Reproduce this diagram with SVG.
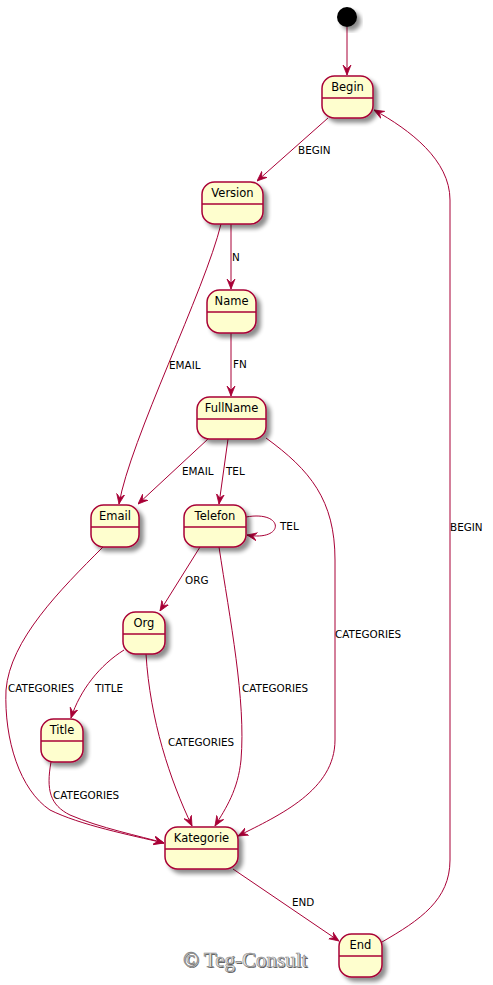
<svg xmlns="http://www.w3.org/2000/svg" width="493" height="985" viewBox="0 0 493 985">
<style>
.st{fill:#FEFECE;stroke:#A80036;stroke-width:1.5;filter:url(#sh)}
.dv{stroke:#A80036;stroke-width:1.5}
.nm{font-family:"DejaVu Sans",sans-serif;font-size:11.5px;fill:#000;text-anchor:middle}
.lb{font-family:"DejaVu Sans",sans-serif;font-size:10.4px;fill:#000}
.e{fill:none;stroke:#A80036;stroke-width:1;marker-end:url(#ah)}
.wm{font-family:"Liberation Serif",serif;font-size:21px}
</style>
<defs>
<filter id="sh" x="-30%" y="-30%" width="160%" height="160%">
<feGaussianBlur in="SourceAlpha" stdDeviation="2"/>
<feOffset dx="4" dy="4" result="b"/>
<feComponentTransfer in="b" result="c"><feFuncA type="linear" slope="0.45"/></feComponentTransfer>
<feMerge><feMergeNode in="c"/><feMergeNode in="SourceGraphic"/></feMerge>
</filter>
<marker id="ah" viewBox="0 0 10 10" refX="10" refY="5" markerWidth="10" markerHeight="10" markerUnits="userSpaceOnUse" orient="auto">
<path d="M0,1 L10,5 L0,9 L4,5 Z" fill="#A80036" stroke="#A80036" stroke-width="0.8"/>
</marker>
</defs>
<rect width="493" height="985" fill="#fff"/>

<g id="connectors">
<path class="e" d="M347,27 L347,75"/>
<path class="e" d="M328,118 L257,181"/>
<text class="lb" x="298" y="154">BEGIN</text>
<path class="e" d="M231,224 L231,289"/>
<text class="lb" x="232" y="261">N</text>
<path class="e" d="M221,224 C205,290 130,440 119,504"/>
<text class="lb" x="169" y="369">EMAIL</text>
<path class="e" d="M231,333 L231,396"/>
<text class="lb" x="233" y="368">FN</text>
<path class="e" d="M208,439 L138,504"/>
<text class="lb" x="182" y="475">EMAIL</text>
<path class="e" d="M228,439 L219,504"/>
<text class="lb" x="226" y="475">TEL</text>
<path class="e" d="M266,438 C310,470 335,500 335,560 L335,740 C335,790 280,815 238,836"/>
<text class="lb" x="335" y="638">CATEGORIES</text>
<path class="e" d="M246,517 C285,510 285,542 247,535"/>
<text class="lb" x="280" y="530">TEL</text>
<path class="e" d="M200,547 L160,611"/>
<text class="lb" x="185" y="584">ORG</text>
<path class="e" d="M219,547 C230,620 246,700 241,760 C238,790 226,808 215,826"/>
<text class="lb" x="242" y="692">CATEGORIES</text>
<path class="e" d="M103,547 C60,590 10,640 6,690 C4,740 20,790 50,810 C80,825 130,835 164,843"/>
<text class="lb" x="8" y="692">CATEGORIES</text>
<path class="e" d="M124,650 C100,665 80,690 71,718"/>
<text class="lb" x="95" y="692">TITLE</text>
<path class="e" d="M146,654 C150,720 170,780 192,826"/>
<text class="lb" x="168" y="746">CATEGORIES</text>
<path class="e" d="M51,762 C46,790 50,805 70,815 C100,828 140,836 164,843"/>
<text class="lb" x="53" y="799">CATEGORIES</text>
<path class="e" d="M233,869 L339,941"/>
<text class="lb" x="292" y="906">END</text>
<path class="e" d="M382,942 C420,920 450,900 450,860 L450,200 C450,160 410,130 374,110"/>
<text class="lb" x="450" y="531">BEGIN</text>
</g>

<g id="start"><circle cx="347" cy="17" r="10" fill="#000" filter="url(#sh)"/></g>

<g id="Begin"><rect class="st" x="322" y="76" width="51" height="42" rx="12.5"/><line class="dv" x1="322" y1="98" x2="373" y2="98"/><text class="nm" x="347.5" y="91">Begin</text></g>
<g id="Version"><rect class="st" x="202" y="182" width="61" height="42" rx="12.5"/><line class="dv" x1="202" y1="204" x2="263" y2="204"/><text class="nm" x="232.5" y="197">Version</text></g>
<g id="Name"><rect class="st" x="207" y="290" width="49" height="43" rx="12.5"/><line class="dv" x1="207" y1="312" x2="256" y2="312"/><text class="nm" x="231.5" y="305">Name</text></g>
<g id="FullName"><rect class="st" x="197" y="397" width="69" height="42" rx="12.5"/><line class="dv" x1="197" y1="419" x2="266" y2="419"/><text class="nm" x="231.5" y="412">FullName</text></g>
<g id="Email"><rect class="st" x="91" y="505" width="48" height="42" rx="12.5"/><line class="dv" x1="91" y1="527" x2="139" y2="527"/><text class="nm" x="115" y="520">Email</text></g>
<g id="Telefon"><rect class="st" x="184" y="505" width="62" height="42" rx="12.5"/><line class="dv" x1="184" y1="527" x2="246" y2="527"/><text class="nm" x="215" y="520">Telefon</text></g>
<g id="Org"><rect class="st" x="123" y="612" width="42" height="42" rx="12.5"/><line class="dv" x1="123" y1="634" x2="165" y2="634"/><text class="nm" x="144" y="627">Org</text></g>
<g id="Title"><rect class="st" x="41" y="719" width="42" height="43" rx="12.5"/><line class="dv" x1="41" y1="741" x2="83" y2="741"/><text class="nm" x="62" y="734">Title</text></g>
<g id="Kategorie"><rect class="st" x="165" y="827" width="73" height="42" rx="12.5"/><line class="dv" x1="165" y1="849" x2="238" y2="849"/><text class="nm" x="201.5" y="842">Kategorie</text></g>
<g id="End"><rect class="st" x="339" y="934" width="43" height="43" rx="12.5"/><line class="dv" x1="339" y1="956" x2="382" y2="956"/><text class="nm" x="360.5" y="949">End</text></g>

<g id="watermark">
<text class="wm" x="183" y="967" fill="#555" transform="translate(1,1)">© Teg-Consult</text>
<text class="wm" x="183" y="967" fill="#eee" stroke="#888" stroke-width="0.6">© Teg-Consult</text>
</g>
</svg>
